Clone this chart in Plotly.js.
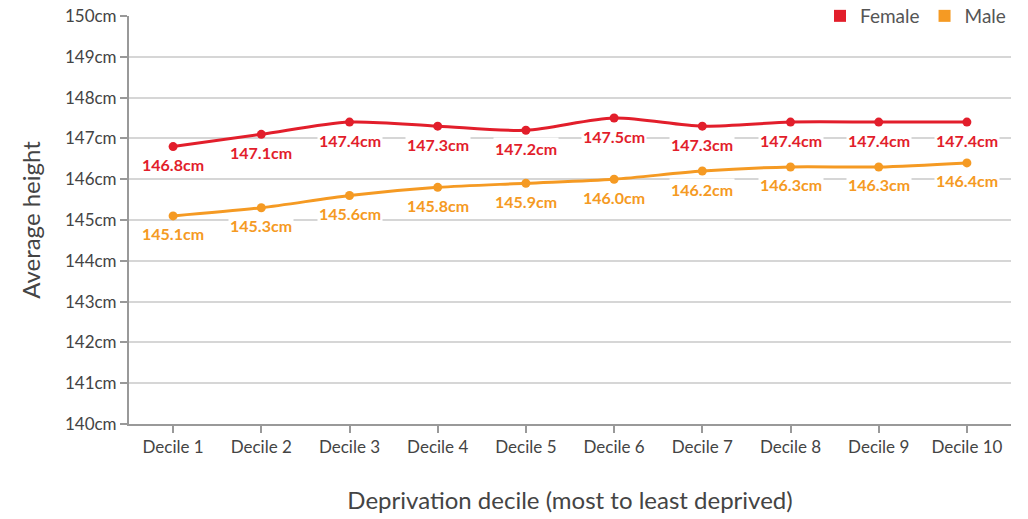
<!DOCTYPE html>
<html>
<head>
<meta charset="utf-8">
<script src="https://cdn.plot.ly/plotly-3.0.1.min.js"></script>
<style>html,body{margin:0;padding:0;background:#fff;}#chart{width:1028px;height:519px;}</style>
</head>
<body>
<div id="chart"></div>
<script>
const categories = ["Decile 1","Decile 2","Decile 3","Decile 4","Decile 5","Decile 6","Decile 7","Decile 8","Decile 9","Decile 10"];
const female = [146.8,147.1,147.4,147.3,147.2,147.5,147.3,147.4,147.4,147.4];
const male = [145.1,145.3,145.6,145.8,145.9,146.0,146.2,146.3,146.3,146.4];
const yTickVals = [140,141,142,143,144,145,146,147,148,149,150];
const yTickText = yTickVals.map(v => v + "cm");

const FEMALE_COLOR = "#e21e2b";
const MALE_COLOR = "#f59a23";
const FONT = "Lato, 'Open Sans', sans-serif";

function lineTrace(name, ys, color) {
  return {
    type: "scatter", mode: "lines+markers", name: name,
    x: categories, y: ys, showlegend: false,
    line: {color: color, width: 3, shape: "spline", smoothing: 0.8},
    marker: {color: color, size: 9},
    hoverinfo: "skip"
  };
}
function legendTrace(name, color) {
  return {
    type: "scatter", mode: "markers", name: name,
    x: [null], y: [null], showlegend: true,
    marker: {color: color, size: 14, symbol: "square"},
    hoverinfo: "skip"
  };
}

function labelAnnotations(ys, color) {
  return ys.map((v, i) => ({
    x: categories[i], y: v, xref: "x", yref: "y",
    text: v.toFixed(1) + "cm", showarrow: false,
    yshift: -18, bgcolor: "#ffffff", borderpad: 1,
    font: {family: FONT, size: 16, color: color, weight: "bold"}
  }));
}

const data = [
  lineTrace("Female", female, FEMALE_COLOR), lineTrace("Male", male, MALE_COLOR),
  legendTrace("Female", FEMALE_COLOR), legendTrace("Male", MALE_COLOR)
];

const layout = {
  width: 1028, height: 519,
  margin: {l: 129, r: 17, t: 16, b: 95, autoexpand: false},
  paper_bgcolor: "#fff", plot_bgcolor: "#fff",
  font: {family: FONT, color: "#444"},
  showlegend: true,
  legend: {orientation: "h", x: 1.0, xanchor: "right", y: 1.0, yanchor: "middle",
           font: {size: 19, color: "#555", family: FONT}, itemwidth: 20, traceorder: "normal",
           bgcolor: "#ffffff", tracegroupgap: 0, itemsizing: "constant"},
  xaxis: {
    type: "category", range: [-0.5, 9.5],
    showline: true, linecolor: "#999", linewidth: 2,
    ticks: "outside", ticklen: 7, tickcolor: "#999", tickwidth: 2,
    showgrid: false, zeroline: false,
    tickfont: {size: 17, color: "#444", family: FONT},
    title: {text: "Deprivation decile (most to least deprived)", font: {size: 24, color: "#444", family: FONT}, standoff: 36}
  },
  yaxis: {
    range: [140, 150], tickvals: yTickVals, ticktext: yTickText,
    showline: true, linecolor: "#999", linewidth: 2,
    ticks: "outside", ticklen: 7, tickcolor: "#999", tickwidth: 2,
    showgrid: true, gridcolor: "#d6d6d6", gridwidth: 2, zeroline: false,
    tickfont: {size: 17, color: "#444", family: FONT},
    title: {text: "Average height", font: {size: 24, color: "#444", family: FONT}, standoff: 18}
  },
  annotations: labelAnnotations(female, FEMALE_COLOR).concat(labelAnnotations(male, MALE_COLOR))
};

Plotly.newPlot("chart", data, layout, {displayModeBar: false, staticPlot: true});
</script>
</body>
</html>
